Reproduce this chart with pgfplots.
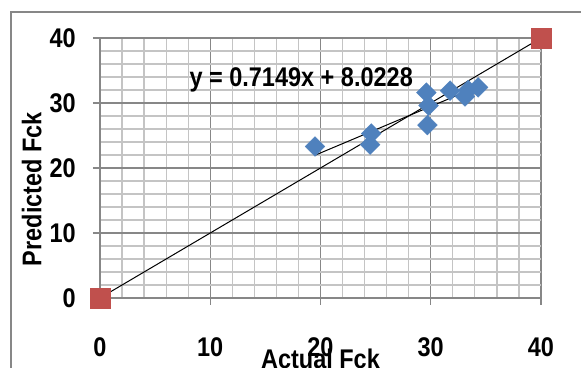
\documentclass[border=0pt]{standalone}
\usepackage{pgfplots}
\pgfplotsset{compat=1.18}
\usepackage{fontspec}
\newfontfamily\chartfont{Liberation Sans}[FakeStretch=0.87]
\definecolor{ptblue}{HTML}{4F81BD}
\definecolor{ptred}{HTML}{C0504D}
\definecolor{majgrid}{HTML}{878787}
\definecolor{mingrid}{HTML}{C4C4C4}
\begin{document}
\begin{tikzpicture}
\begin{axis}[
  scale only axis, width=441pt, height=260pt,
  xmin=0, xmax=40, ymin=0, ymax=40,
  xtick={0,10,20,30,40}, ytick={0,10,20,30,40},
  minor xtick={2,4,6,8,12,14,16,18,22,24,26,28,32,34,36,38},
  minor ytick={2,4,6,8,12,14,16,18,22,24,26,28,32,34,36,38},
  grid=both,
  major grid style={draw=majgrid, line width=1.2pt},
  minor grid style={draw=mingrid, line width=1.2pt},
  axis x line*=bottom, axis y line*=left,
  axis line style={draw=majgrid, line width=1.2pt},
  tick align=outside, major tick length=7pt, minor tick length=0pt,
  tick style={draw=majgrid, line width=1.2pt},
  /pgf/number format/assume math mode=true,
  tick label style={font=\chartfont\bfseries\fontsize{27}{27}\selectfont, inner sep=0pt},
  xticklabel style={anchor=north, yshift=-32pt},
  yticklabel style={anchor=east, xshift=-17pt},
  xlabel={Actual Fck},
  ylabel={Predicted Fck},
  label style={font=\chartfont\bfseries\fontsize{27}{27}\selectfont, inner sep=0pt},
  xlabel style={at={(axis description cs:0.5,-0.235)}, anchor=center},
  ylabel style={at={(axis description cs:-0.155,0.419)}, anchor=center, rotate=0},
  clip=false,
]
\addplot[black, line width=1pt] coordinates {(0,0) (40,40)};
\addplot[only marks, mark=square*, mark size=10pt, ptred, mark options={draw=ptred, fill=ptred}] coordinates {(0,0) (40,40)};
\addplot[only marks, mark=square*, mark size=7pt, ptblue, mark options={rotate=45, draw=ptblue, fill=ptblue}] coordinates {
(19.5,23.3) (24.6,25.3) (24.5,23.6) (29.6,31.6) (29.8,29.6) (29.7,26.6) (31.75,31.9) (33.1,31.0) (33.4,32.0) (34.3,32.4)
};
\addplot[black, line width=1pt] coordinates {(19.5,21.96) (34.3,32.54)};
\node[anchor=west, inner sep=0pt, font=\chartfont\bfseries\fontsize{27}{27}\selectfont] at (axis cs:8.1,33.5) {y = 0.7149x + 8.0228};
\end{axis}
\pgfresetboundingbox
\path[use as bounding box] ([shift={(-100pt,-70pt)}]current axis.south west) rectangle ([shift={(40pt,38pt)}]current axis.north east);
\begin{scope}
\clip ([shift={(-100pt,-70pt)}]current axis.south west) rectangle ([shift={(40pt,38pt)}]current axis.north east);
\draw[majgrid, line width=1.4pt] ([shift={(-89pt,-120pt)}]current axis.south west) rectangle ([shift={(120pt,26pt)}]current axis.north east);
\end{scope}
\end{tikzpicture}
\end{document}
